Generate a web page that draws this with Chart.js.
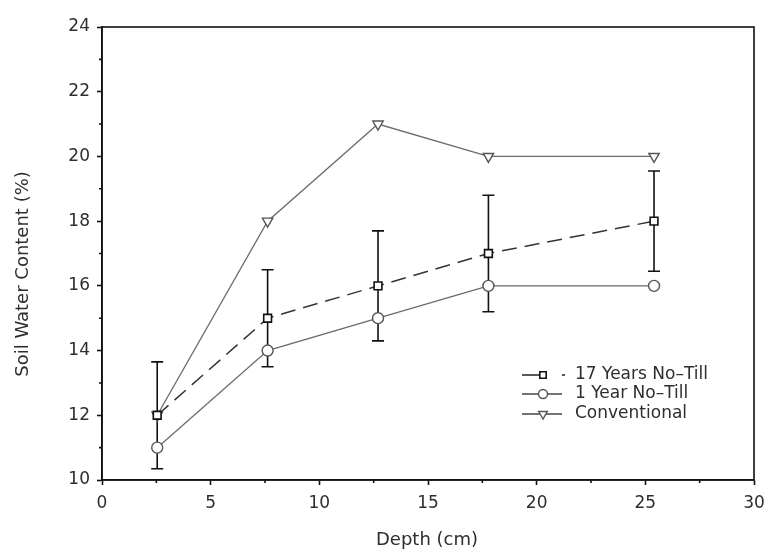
<!DOCTYPE html>
<html>
<head>
<meta charset="utf-8">
<script src="https://cdn.jsdelivr.net/npm/chart.js@4/dist/chart.umd.min.js"></script>
<style>
  html, body { margin: 0; padding: 0; background: #fff; }
  #wrap { width: 767px; height: 551px; }
</style>
</head>
<body>
<div id="wrap"><canvas id="soil"></canvas></div>
<script>
// sampling depths (cm)
const depths = [2.54, 7.62, 12.7, 17.78, 25.4];

const seriesNames = ['17 Years No\u2013Till', '1 Year No\u2013Till', 'Conventional'];
const noTill17 = [12, 15, 16, 17, 18];
const noTill17Err = [1.65, 1.5, 1.7, 1.8, 1.55];
const noTill1 = [11, 14, 15, 16, 16];
const conventional = [12, 18, 21, 20, 20];

const xTicks = [0, 5, 10, 15, 20, 25, 30];
const yTicks = [10, 12, 14, 16, 18, 20, 22, 24];
const xTitle = 'Depth (cm)';
const yTitle = 'Soil Water Content (%)';

const FONT = 'DejaVu Sans, Verdana, sans-serif';
const TEXT = '#2e2e2e';

const toPoints = vals => vals.map((v, i) => ({ x: depths[i], y: v }));

const datasets = [
  {
    label: seriesNames[0],
    data: toPoints(noTill17),
    showLine: true,
    borderColor: '#333',
    borderWidth: 1.5,
    borderDash: [15, 8],
    pointStyle: 'rect',
    pointRadius: 5.5,
    pointBorderWidth: 1.6,
    pointBorderColor: '#111',
    pointBackgroundColor: '#fff',
    order: 1
  },
  {
    label: seriesNames[1],
    data: toPoints(noTill1),
    showLine: true,
    borderColor: '#6a6a6a',
    borderWidth: 1.3,
    pointStyle: 'circle',
    pointRadius: 5.5,
    pointBorderWidth: 1.4,
    pointBorderColor: '#555',
    pointBackgroundColor: '#fff',
    order: 2
  },
  {
    label: seriesNames[2],
    data: toPoints(conventional),
    showLine: true,
    borderColor: '#6a6a6a',
    borderWidth: 1.3,
    pointStyle: 'triangle',
    pointRotation: 180,
    pointRadius: 6,
    pointBorderWidth: 1.4,
    pointBorderColor: '#555',
    pointBackgroundColor: '#fff',
    order: 3
  }
];

// error bars on the 17-year series, drawn under the markers
const errorBars = {
  id: 'errorBars',
  beforeDatasetsDraw(chart) {
    const { ctx, scales: { x, y } } = chart;
    ctx.save();
    ctx.strokeStyle = '#111';
    ctx.lineWidth = 1.6;
    noTill17.forEach((v, i) => {
      const px = x.getPixelForValue(depths[i]);
      const top = y.getPixelForValue(v + noTill17Err[i]);
      const bot = y.getPixelForValue(v - noTill17Err[i]);
      ctx.beginPath();
      ctx.moveTo(px, top); ctx.lineTo(px, bot);
      ctx.moveTo(px - 6, top); ctx.lineTo(px + 6, top);
      ctx.moveTo(px - 6, bot); ctx.lineTo(px + 6, bot);
      ctx.stroke();
    });
    ctx.restore();
  }
};

// box frame, minor ticks, axis titles and the legend
const frame = {
  id: 'frame',
  afterDraw(chart) {
    const { ctx, chartArea: a, scales: { x, y } } = chart;
    ctx.save();
    ctx.strokeStyle = '#111';
    ctx.lineWidth = 1.6;
    ctx.strokeRect(a.left, a.top, a.right - a.left, a.bottom - a.top);

    ctx.beginPath();
    for (let i = 0; i < xTicks.length - 1; i++) {
      const px = x.getPixelForValue((xTicks[i] + xTicks[i + 1]) / 2);
      ctx.moveTo(px, a.bottom); ctx.lineTo(px, a.bottom + 3);
    }
    for (let i = 0; i < yTicks.length - 1; i++) {
      const py = y.getPixelForValue((yTicks[i] + yTicks[i + 1]) / 2);
      ctx.moveTo(a.left, py); ctx.lineTo(a.left - 3, py);
    }
    ctx.stroke();

    // axis titles
    ctx.fillStyle = TEXT;
    ctx.font = '18px ' + FONT;
    ctx.textAlign = 'center';
    ctx.textBaseline = 'middle';
    ctx.fillText(xTitle, 427, 540);
    ctx.save();
    ctx.translate(23, 274);
    ctx.rotate(-Math.PI / 2);
    ctx.fillText(yTitle, 0, 0);
    ctx.restore();

    // legend
    const lx = 522, rows = [375, 394, 414];
    ctx.textAlign = 'left';
    ctx.font = '17px ' + FONT;
    chart.data.datasets.forEach((ds, i) => {
      const ly = rows[i];
      ctx.strokeStyle = i === 0 ? '#222' : '#444';
      ctx.lineWidth = 1.5;
      ctx.beginPath();
      if (i === 0) {
        ctx.moveTo(lx, ly); ctx.lineTo(lx + 21, ly);
        ctx.moveTo(lx + 40, ly); ctx.lineTo(lx + 43, ly);
      } else {
        ctx.moveTo(lx, ly); ctx.lineTo(lx + 40, ly);
      }
      ctx.stroke();
      ctx.strokeStyle = ds.pointBorderColor;
      ctx.fillStyle = '#fff';
      ctx.lineWidth = ds.pointBorderWidth;
      Chart.helpers.drawPoint(ctx, {
        pointStyle: ds.pointStyle,
        rotation: ds.pointRotation || 0,
        radius: ds.pointRadius - 1,
        borderWidth: ds.pointBorderWidth
      }, lx + 21, ly);
      ctx.fillStyle = TEXT;
      ctx.fillText(ds.label, lx + 53, ly);
    });
    ctx.restore();
  }
};

new Chart(document.getElementById('soil'), {
  type: 'scatter',
  data: { datasets },
  options: {
    responsive: true,
    maintainAspectRatio: false,
    animation: false,
    layout: { padding: { top: 27, right: 13, left: 0, bottom: 0 } },
    plugins: { legend: { display: false }, tooltip: { enabled: false } },
    scales: {
      x: {
        type: 'linear',
        min: 0, max: 30,
        afterBuildTicks: s => { s.ticks = xTicks.map(v => ({ value: v })); },
        afterFit: s => { s.height = 71; s.paddingLeft = 0; s.paddingRight = 0; },
        grid: { drawOnChartArea: false, tickLength: 5, tickWidth: 1.6, tickColor: '#111' },
        border: { color: '#111', width: 1.6 },
        ticks: { color: TEXT, font: { family: FONT, size: 17 }, padding: 8, maxRotation: 0 }
      },
      y: {
        type: 'linear',
        min: 10, max: 24,
        afterBuildTicks: s => { s.ticks = yTicks.map(v => ({ value: v })); },
        afterFit: s => { s.width = 102; s.paddingTop = 0; s.paddingBottom = 0; },
        grid: { drawOnChartArea: false, tickLength: 5, tickWidth: 1.6, tickColor: '#111' },
        border: { color: '#111', width: 1.6 },
        ticks: { color: TEXT, font: { family: FONT, size: 17 }, padding: 7 }
      }
    }
  },
  plugins: [errorBars, frame]
});
</script>
</body>
</html>
